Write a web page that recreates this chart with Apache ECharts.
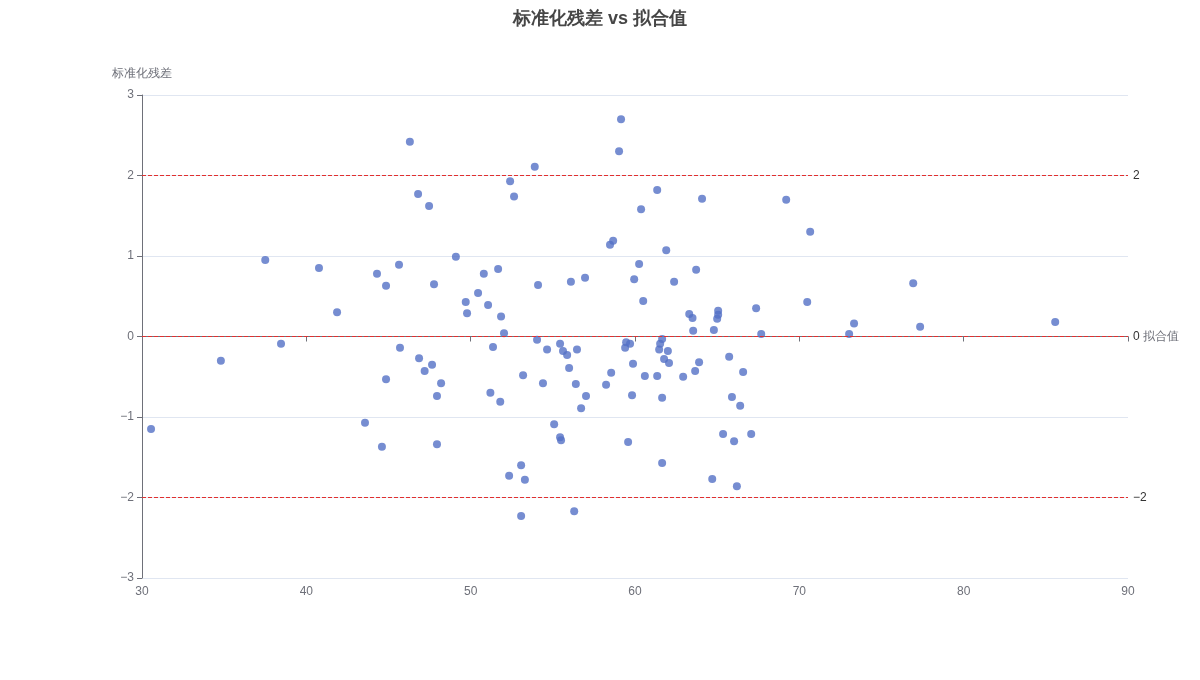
<!DOCTYPE html>
<html>
<head>
<meta charset="utf-8">
<script src="https://cdn.jsdelivr.net/npm/echarts@6/dist/echarts.min.js"></script>
<style>html,body{margin:0;padding:0;background:#fff;}#c{width:1200px;height:680px;}</style>
</head>
<body>
<div id="c"></div>
<script>
const fittedValues = [30.55,34.8,37.5,38.46,40.77,41.87,43.57,44.3,44.6,44.85,44.85,45.64,45.7,46.3,46.8,46.86,47.2,47.47,47.65,47.77,47.95,47.95,48.2,49.1,49.7,49.78,50.45,50.8,51.06,51.2,51.36,51.67,51.8,51.85,52.03,52.34,52.4,52.64,53.07,53.07,53.19,53.3,53.9,54.04,54.1,54.4,54.65,55.08,55.44,55.44,55.5,55.62,55.87,55.99,56.1,56.3,56.4,56.47,56.72,56.96,57.02,58.24,58.48,58.55,58.67,59.03,59.15,59.4,59.46,59.58,59.7,59.82,59.88,59.95,60.25,60.37,60.5,60.6,61.35,61.35,61.47,61.53,61.65,61.65,61.65,61.77,61.9,62.0,62.07,62.38,62.93,63.3,63.5,63.54,63.66,63.72,63.9,64.08,64.7,64.8,65.0,65.06,65.06,65.36,65.73,65.9,66.03,66.2,66.4,66.58,67.07,67.37,67.68,69.2,70.48,70.66,73.03,73.33,76.93,77.35,85.57];
const stdResiduals = [-1.15,-0.30,0.95,-0.09,0.85,0.30,-1.07,0.78,-1.37,-0.53,0.63,0.89,-0.14,2.42,1.77,-0.27,-0.43,1.62,-0.35,0.65,-0.74,-1.34,-0.58,0.99,0.43,0.29,0.54,0.78,0.39,-0.70,-0.13,0.84,-0.81,0.25,0.04,-1.73,1.93,1.74,-1.60,-2.23,-0.48,-1.78,2.11,-0.04,0.64,-0.58,-0.16,-1.09,-0.09,-1.25,-1.29,-0.18,-0.23,-0.39,0.68,-2.17,-0.59,-0.16,-0.89,0.73,-0.74,-0.60,1.14,-0.45,1.19,2.30,2.70,-0.14,-0.07,-1.31,-0.09,-0.73,-0.34,0.71,0.90,1.58,0.44,-0.49,1.82,-0.49,-0.16,-0.09,-0.03,-0.76,-1.57,-0.28,1.07,-0.18,-0.33,0.68,-0.50,0.28,0.23,0.07,-0.43,0.83,-0.32,1.71,-1.77,0.08,0.22,0.32,0.27,-1.21,-0.25,-0.75,-1.30,-1.86,-0.86,-0.44,-1.21,0.35,0.03,1.70,0.43,1.30,0.03,0.16,0.66,0.12,0.18];
const refLines = [2, 0, -2];
const titleText = '标准化残差 vs 拟合值';
const xName = '拟合值';
const yName = '标准化残差';

const fmt = v => String(v).replace('-', '\u2212');
const points = fittedValues.map((x, i) => [x, stdResiduals[i]]);
const chart = echarts.init(document.getElementById('c'));
const axisGray = '#6E7079';
chart.setOption({
  animation: false,
  title: { text: titleText, left: 'center', top: 5, textStyle: { fontSize: 18, fontWeight: 'bold', color: '#464646' } },
  grid: { left: 142, right: 72, top: 95, bottom: 102 },
  xAxis: {
    type: 'value', min: 30, max: 90, interval: 10,
    name: xName,
    nameTextStyle: { color: axisGray, fontSize: 12 },
    axisLine: { lineStyle: { color: axisGray } },
    axisTick: { lineStyle: { color: axisGray } },
    axisLabel: { color: axisGray, fontSize: 12, formatter: fmt },
    splitLine: { show: false }
  },
  yAxis: {
    type: 'value', min: -3, max: 3, interval: 1,
    name: yName,
    nameTextStyle: { color: axisGray, fontSize: 12 },
    axisLine: { show: true, lineStyle: { color: axisGray } },
    axisTick: { show: true, lineStyle: { color: axisGray } },
    axisLabel: { color: axisGray, fontSize: 12, formatter: fmt },
    splitLine: { lineStyle: { color: '#E0E6F1' } }
  },
  series: [{
    type: 'scatter',
    data: points,
    symbolSize: 8,
    itemStyle: { color: '#5470c6', opacity: 0.8 },
    markLine: {
      symbol: 'none',
      silent: true,
      lineStyle: { color: '#e03030', type: 'dashed', width: 1 },
      label: { position: 'end', color: '#333', formatter: p => fmt(p.value) },
      data: refLines.map(v => ({ yAxis: v }))
    }
  }]
});
</script>
</body>
</html>
